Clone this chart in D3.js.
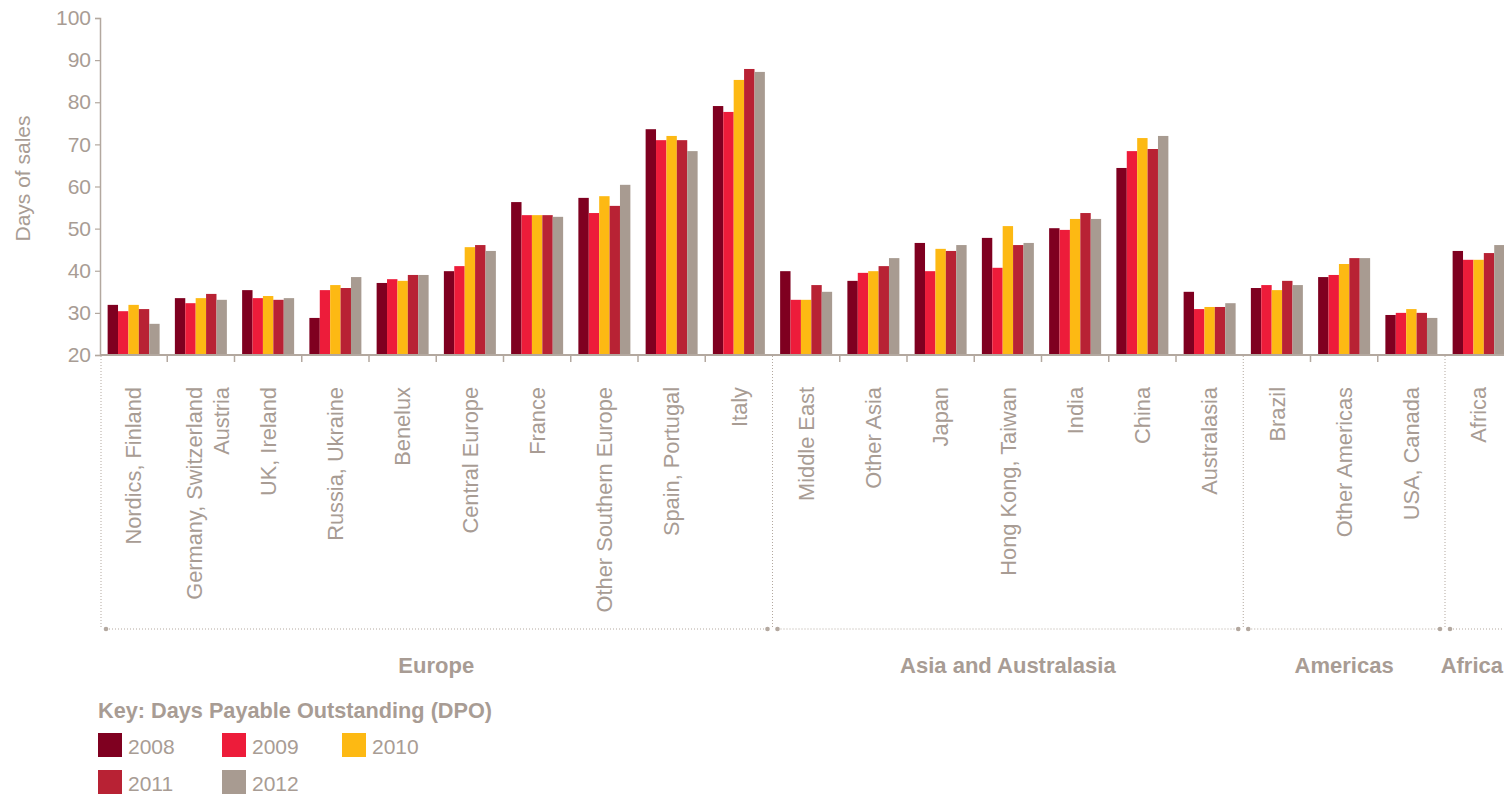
<!DOCTYPE html>
<html>
<head>
<meta charset="utf-8">
<script src="https://cdn.jsdelivr.net/npm/d3@7"></script>
<style>
  html, body { margin: 0; padding: 0; background: #fff; }
  svg { display: block; font-family: "Liberation Sans", Arial, Helvetica, sans-serif; }
</style>
</head>
<body>
<svg id="chart" width="1504" height="794"></svg>
<script>
const categories = [
  "Nordics, Finland", "Germany, Switzerland\nAustria", "UK, Ireland", "Russia, Ukraine",
  "Benelux", "Central Europe", "France", "Other Southern Europe", "Spain, Portugal", "Italy",
  "Middle East", "Other Asia", "Japan", "Hong Kong, Taiwan", "India", "China", "Australasia",
  "Brazil", "Other Americas", "USA, Canada", "Africa"
];
const groupNames = ["Europe", "Asia and Australasia", "Americas", "Africa"];
const groupSizes = [10, 7, 3, 1];
const years = ["2008", "2009", "2010", "2011", "2012"];
const colors = ["#7f0020", "#ed1c3a", "#fdb913", "#b82234", "#a89b91"];
const v2008 = [31.9, 33.5, 35.4, 28.8, 37.1, 39.9, 56.3, 57.3, 73.6, 79.1, 39.9, 37.6, 46.6, 47.8, 50.1, 64.4, 35.0, 35.9, 38.5, 29.5, 44.7];
const v2009 = [30.4, 32.3, 33.5, 35.4, 38.0, 41.1, 53.2, 53.7, 71.0, 77.7, 33.1, 39.5, 39.9, 40.7, 49.7, 68.4, 30.9, 36.6, 39.0, 30.0, 42.6];
const v2010 = [31.9, 33.5, 34.0, 36.6, 37.6, 45.6, 53.2, 57.7, 72.0, 85.3, 33.1, 39.9, 45.2, 50.6, 52.3, 71.5, 31.4, 35.4, 41.6, 30.9, 42.6];
const v2011 = [30.9, 34.5, 33.1, 35.9, 39.0, 46.1, 53.2, 55.4, 71.0, 87.9, 36.6, 41.1, 44.7, 46.1, 53.7, 68.9, 31.4, 37.6, 43.0, 30.0, 44.2];
const v2012 = [27.4, 33.1, 33.5, 38.5, 39.0, 44.7, 52.8, 60.4, 68.4, 87.2, 35.0, 43.0, 46.1, 46.6, 52.3, 72.0, 32.3, 36.6, 43.0, 28.8, 46.1];
const yTicks = [20, 30, 40, 50, 60, 70, 80, 90, 100];
const yTitle = "Days of sales";
const keyTitle = "Key: Days Payable Outstanding (DPO)";

const series = [v2008, v2009, v2010, v2011, v2012];
const textColor = "#a89c94";
const lineColor = "#b3a89f";

const svg = d3.select("#chart");
const left = 100, baseY = 355, topY = 18, step = 67.25;

const x = d3.scaleBand().domain(d3.range(categories.length))
  .range([left, left + step * categories.length]).padding(0);
const groupW = 52;
const xi = d3.scaleBand().domain(years).range([0, groupW]).padding(0);
const y = d3.scaleLinear().domain([20, 100]).range([baseY, topY]);

// bars
const gBars = svg.append("g");
categories.forEach((c, i) => {
  const x0 = x(i) + (x.bandwidth() - groupW) / 2;
  years.forEach((yr, k) => {
    gBars.append("rect")
      .attr("x", x0 + xi(yr))
      .attr("y", y(series[k][i]))
      .attr("width", xi.bandwidth())
      .attr("height", y(20) - y(series[k][i]))
      .attr("fill", colors[k]);
  });
});

// y axis
const yAxis = svg.append("g").attr("transform", `translate(${left},0)`)
  .call(d3.axisLeft(y).tickValues(yTicks).tickSize(5).tickPadding(4).tickFormat(d3.format("d")));
yAxis.select(".domain").attr("stroke", lineColor).attr("stroke-width", 1.5);
yAxis.selectAll(".tick line").attr("stroke", lineColor).attr("stroke-width", 1.2);
yAxis.selectAll(".tick text").attr("fill", textColor).attr("font-size", 21)
  .attr("font-family", "'Liberation Sans', Arial, sans-serif");

svg.append("text")
  .attr("transform", `translate(30,${(topY + baseY) / 2 - 8}) rotate(-90)`)
  .attr("text-anchor", "middle")
  .attr("fill", textColor).attr("font-size", 21)
  .text(yTitle);

// x baseline
svg.append("line")
  .attr("x1", left).attr("x2", 1504).attr("y1", baseY).attr("y2", baseY)
  .attr("stroke", lineColor).attr("stroke-width", 2);

// group boundaries
const boundaries = [0];
groupSizes.reduce((acc, s) => { boundaries.push(acc + s); return acc + s; }, 0);
const groupStartIdx = new Set(boundaries.slice(0, groupSizes.length));

// category ticks (non-group)
for (let i = 1; i < categories.length; i++) {
  if (groupStartIdx.has(i)) continue;
  svg.append("line")
    .attr("x1", x(i)).attr("x2", x(i)).attr("y1", baseY).attr("y2", baseY + 7)
    .attr("stroke", lineColor).attr("stroke-width", 1.5);
}

const bracketY = 629;
groupSizes.forEach((s, g) => {
  const i0 = boundaries[g];
  const xs = g === 0 ? x(i0) + 1 : x(i0);
  const xe = x(i0 + s - 1) + x.bandwidth();
  svg.append("line")
    .attr("x1", xs).attr("x2", xs).attr("y1", baseY + 1).attr("y2", bracketY)
    .attr("stroke", lineColor).attr("stroke-width", 1).attr("stroke-dasharray", "1,2");
  const hs = xs + 5, he = Math.min(xe - 5, 1504 + 20);
  svg.append("line")
    .attr("x1", hs).attr("x2", he).attr("y1", bracketY).attr("y2", bracketY)
    .attr("stroke", lineColor).attr("stroke-width", 1).attr("stroke-dasharray", "1,2");
  svg.append("circle").attr("cx", hs).attr("cy", bracketY).attr("r", 2.3).attr("fill", lineColor);
  if (xe <= 1504) svg.append("circle").attr("cx", he).attr("cy", bracketY).attr("r", 2.3).attr("fill", lineColor);
  const isLast = g === groupSizes.length - 1;
  svg.append("text")
    .attr("x", isLast ? 1503 : (x(i0) + xe) / 2).attr("y", 673)
    .attr("text-anchor", isLast ? "end" : "middle").attr("font-weight", "bold")
    .attr("fill", textColor).attr("font-size", 22)
    .text(groupNames[g]);
});

// category labels
categories.forEach((c, i) => {
  const lines = c.split("\n");
  const cx = x(i) + x.bandwidth() / 2;
  const offsets = lines.length === 1 ? [0] : [-7, 20];
  lines.forEach((ln, j) => {
    svg.append("text")
      .attr("transform", `translate(${cx + offsets[j]},387) rotate(-90)`)
      .attr("text-anchor", "end").attr("dy", "0.36em")
      .attr("fill", textColor).attr("font-size", 21.8)
      .text(ln);
  });
});

// legend
svg.append("text").attr("x", 98).attr("y", 718)
  .attr("font-weight", "bold").attr("fill", textColor).attr("font-size", 21.7)
  .text(keyTitle);
const legendPos = [[98, 733], [222, 733], [342, 733], [98, 770], [222, 770]];
years.forEach((yr, k) => {
  const [lx, ly] = legendPos[k];
  svg.append("rect").attr("x", lx).attr("y", ly).attr("width", 24).attr("height", 24).attr("fill", colors[k]);
  svg.append("text").attr("x", lx + 30).attr("y", ly + 21)
    .attr("fill", textColor).attr("font-size", 21).text(yr);
});
</script>
</body>
</html>
